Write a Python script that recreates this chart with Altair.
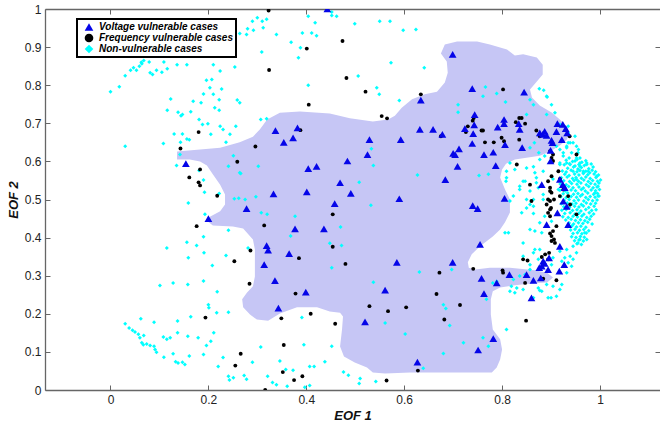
import altair as alt
import pandas as pd

# Outline of the shaded voltage-vulnerable region (EOF 1, EOF 2), traced clockwise
region_x = [0.136, 0.224, 0.264, 0.291, 0.305, 0.320, 0.346, 0.387, 0.448, 0.489, 0.536, 0.567,
            0.581, 0.595, 0.616, 0.642, 0.667, 0.683, 0.689, 0.687, 0.675, 0.683, 0.708, 0.749,
            0.775, 0.810, 0.826, 0.843, 0.871, 0.883, 0.883, 0.871, 0.857, 0.861, 0.877, 0.902,
            0.918, 0.932, 0.938, 0.932, 0.918, 0.898, 0.877, 0.853, 0.826, 0.808, 0.800, 0.796,
            0.800, 0.806, 0.816, 0.816, 0.806, 0.796, 0.781, 0.755, 0.738, 0.730, 0.732, 0.745,
            0.775, 0.816, 0.867, 0.892, 0.904, 0.892, 0.863, 0.822, 0.796, 0.781, 0.777, 0.777,
            0.781, 0.796, 0.800, 0.796, 0.789, 0.779, 0.734, 0.673, 0.612, 0.561, 0.536, 0.524,
            0.499, 0.477, 0.469, 0.473, 0.475, 0.469, 0.448, 0.422, 0.381, 0.346, 0.322, 0.299,
            0.285, 0.271, 0.269, 0.279, 0.291, 0.295, 0.295, 0.295, 0.291, 0.271, 0.250, 0.209,
            0.199, 0.203, 0.224, 0.234, 0.234, 0.224, 0.209, 0.197, 0.183, 0.162, 0.136]
region_y = [0.626, 0.636, 0.650, 0.665, 0.684, 0.710, 0.728, 0.731, 0.726, 0.713, 0.705, 0.710,
            0.720, 0.741, 0.763, 0.776, 0.783, 0.807, 0.833, 0.862, 0.883, 0.907, 0.915, 0.915,
            0.907, 0.894, 0.878, 0.881, 0.873, 0.854, 0.828, 0.810, 0.789, 0.768, 0.747, 0.728,
            0.710, 0.692, 0.673, 0.657, 0.642, 0.626, 0.615, 0.610, 0.605, 0.594, 0.579, 0.558,
            0.545, 0.526, 0.500, 0.466, 0.440, 0.421, 0.403, 0.377, 0.356, 0.335, 0.321, 0.316,
            0.321, 0.321, 0.314, 0.308, 0.295, 0.282, 0.280, 0.274, 0.269, 0.259, 0.238, 0.198,
            0.159, 0.133, 0.106, 0.080, 0.059, 0.046, 0.046, 0.046, 0.046, 0.043, 0.046, 0.059,
            0.072, 0.088, 0.114, 0.159, 0.193, 0.203, 0.206, 0.217, 0.217, 0.201, 0.182, 0.185,
            0.198, 0.217, 0.238, 0.256, 0.272, 0.298, 0.335, 0.369, 0.395, 0.424, 0.429, 0.432,
            0.442, 0.455, 0.469, 0.487, 0.513, 0.539, 0.566, 0.589, 0.600, 0.605, 0.605]

voltage_pts = [
    (0.443, 1.000), (0.154, 0.594), (0.337, 0.681), (0.382, 0.688), (0.354, 0.650), (0.373, 0.662),
    (0.404, 0.581), (0.421, 0.587), (0.333, 0.515), (0.401, 0.520), (0.278, 0.476), (0.200, 0.450),
    (0.699, 0.881), (0.739, 0.791), (0.845, 0.782), (0.634, 0.761), (0.744, 0.723), (0.743, 0.696),
    (0.724, 0.686), (0.741, 0.673), (0.804, 0.710), (0.804, 0.699), (0.791, 0.690), (0.834, 0.699),
    (0.836, 0.684), (0.632, 0.684), (0.659, 0.684), (0.678, 0.671), (0.593, 0.657), (0.529, 0.657),
    (0.739, 0.647), (0.806, 0.644), (0.841, 0.636), (0.712, 0.633), (0.525, 0.618), (0.700, 0.621),
    (0.704, 0.618), (0.763, 0.618), (0.782, 0.624), (0.787, 0.589), (0.709, 0.587), (0.484, 0.601),
    (0.469, 0.544), (0.491, 0.516), (0.684, 0.552), (0.590, 0.502), (0.458, 0.489), (0.740, 0.484),
    (0.750, 0.476), (0.805, 0.503), (0.877, 0.675), (0.883, 0.671), (0.887, 0.679), (0.891, 0.668),
    (0.913, 0.699), (0.924, 0.697), (0.930, 0.686), (0.911, 0.678), (0.933, 0.675), (0.922, 0.657),
    (0.901, 0.655), (0.903, 0.649), (0.899, 0.629), (0.899, 0.601), (0.881, 0.539), (0.924, 0.539),
    (0.928, 0.531), (0.932, 0.482), (0.913, 0.465), (0.891, 0.434), (0.935, 0.434), (0.918, 0.377),
    (0.896, 0.347), (0.884, 0.338), (0.881, 0.325), (0.876, 0.321), (0.894, 0.316), (0.887, 0.332),
    (0.927, 0.329), (0.917, 0.312), (0.879, 0.294), (0.864, 0.288), (0.850, 0.303), (0.815, 0.303),
    (0.758, 0.293), (0.860, 0.242), (0.763, 0.253), (0.755, 0.382), (0.585, 0.335), (0.699, 0.335),
    (0.789, 0.281), (0.561, 0.262), (0.520, 0.179), (0.782, 0.135), (0.751, 0.105), (0.627, 0.073),
    (0.377, 0.423), (0.436, 0.423), (0.319, 0.379), (0.322, 0.367), (0.365, 0.358), (0.314, 0.329),
    (0.336, 0.287), (0.399, 0.257), (0.343, 0.215), (0.918, 0.553), (0.925, 0.496),
]

frequency_pts = [
    (0.323, 0.996), (0.401, 0.896), (0.324, 0.840), (0.405, 0.749), (0.180, 0.677), (0.143, 0.634),
    (0.296, 0.639), (0.388, 0.682), (0.259, 0.599), (0.183, 0.579), (0.161, 0.558), (0.180, 0.545),
    (0.183, 0.537), (0.218, 0.510), (0.474, 0.916), (0.482, 0.819), (0.521, 0.783), (0.634, 0.776),
    (0.554, 0.719), (0.565, 0.713), (0.802, 0.789), (0.742, 0.714), (0.740, 0.707), (0.730, 0.692),
    (0.726, 0.677), (0.758, 0.681), (0.761, 0.681), (0.765, 0.650), (0.783, 0.650), (0.799, 0.662),
    (0.804, 0.653), (0.835, 0.657), (0.828, 0.703), (0.835, 0.714), (0.840, 0.714), (0.847, 0.699),
    (0.675, 0.666), (0.830, 0.592), (0.454, 0.461), (0.870, 0.681), (0.877, 0.666), (0.898, 0.627),
    (0.901, 0.609), (0.915, 0.574), (0.894, 0.548), (0.857, 0.539), (0.898, 0.522), (0.860, 0.496),
    (0.894, 0.500), (0.898, 0.474), (0.918, 0.509), (0.925, 0.526), (0.938, 0.666), (0.904, 0.618),
    (0.904, 0.601), (0.901, 0.561), (0.918, 0.554), (0.898, 0.531), (0.925, 0.535), (0.901, 0.518),
    (0.935, 0.509), (0.952, 0.618), (0.898, 0.496), (0.906, 0.500), (0.891, 0.487), (0.900, 0.478),
    (0.894, 0.465), (0.898, 0.456), (0.939, 0.487), (0.952, 0.461), (0.911, 0.430), (0.904, 0.417),
    (0.901, 0.404), (0.906, 0.395), (0.908, 0.386), (0.901, 0.391), (0.888, 0.356), (0.896, 0.360),
    (0.843, 0.343), (0.852, 0.340), (0.801, 0.314), (0.802, 0.308), (0.847, 0.281), (0.884, 0.292),
    (0.911, 0.288), (0.894, 0.343), (0.480, 0.331), (0.672, 0.308), (0.741, 0.318), (0.666, 0.252),
    (0.714, 0.223), (0.529, 0.220), (0.567, 0.207), (0.604, 0.217), (0.459, 0.174), (0.682, 0.185),
    (0.849, 0.182), (0.628, 0.051), (0.564, 0.025), (0.881, 0.349), (0.898, 0.411), (0.454, 0.376),
    (0.314, 0.432), (0.176, 0.430), (0.286, 0.366), (0.385, 0.346), (0.253, 0.338), (0.284, 0.279),
    (0.378, 0.253), (0.409, 0.200), (0.349, 0.188), (0.194, 0.190), (0.266, 0.095), (0.354, 0.118),
    (0.255, 0.064), (0.352, 0.047), (0.392, 0.036), (0.375, 0.026), (0.316, 0.000),
]

# scattered non-vulnerable cases
nonvul_pts = [
    (0.000, 0.783), (0.018, 0.796), (0.030, 0.825), (0.041, 0.839), (0.047, 0.846), (0.053, 0.839),
    (0.059, 0.850), (0.064, 0.856), (0.068, 0.865), (0.063, 0.860), (0.079, 0.861), (0.086, 0.828),
    (0.081, 0.833), (0.094, 0.839), (0.105, 0.834), (0.109, 0.861), (0.116, 0.843), (0.136, 0.854),
    (0.156, 0.854), (0.030, 0.640), (0.123, 0.764), (0.116, 0.734), (0.138, 0.729), (0.144, 0.720),
    (0.147, 0.723), (0.164, 0.730), (0.169, 0.758), (0.185, 0.754), (0.190, 0.777), (0.196, 0.813),
    (0.207, 0.815), (0.203, 0.793), (0.210, 0.776), (0.210, 0.854), (0.224, 0.837), (0.254, 0.848),
    (0.227, 0.790), (0.222, 0.762), (0.213, 0.741), (0.222, 0.734), (0.259, 0.761), (0.264, 0.754),
    (0.181, 0.710), (0.199, 0.699), (0.188, 0.697), (0.224, 0.692), (0.230, 0.684), (0.244, 0.671),
    (0.130, 0.672), (0.147, 0.672), (0.156, 0.659), (0.161, 0.657), (0.205, 0.671), (0.108, 0.647),
    (0.143, 0.650), (0.236, 0.650), (0.307, 0.710), (0.319, 0.712), (0.251, 0.615), (0.241, 0.587),
    (0.264, 0.570), (0.302, 0.587), (0.135, 0.589), (0.142, 0.618), (0.256, 0.692),
    (0.264, 0.936), (0.278, 0.933), (0.280, 0.948), (0.290, 0.968), (0.300, 0.977), (0.310, 0.968),
    (0.319, 0.973), (0.312, 0.951), (0.292, 0.944), (0.339, 0.933), (0.309, 0.887), (0.369, 0.913),
    (0.384, 0.872), (0.388, 0.898), (0.392, 0.937), (0.411, 0.937), (0.421, 0.930), (0.404, 0.981),
    (0.418, 0.964), (0.404, 0.800), (0.452, 0.983), (0.452, 0.992), (0.462, 0.981), (0.499, 0.961),
    (0.550, 0.968), (0.571, 0.968), (0.598, 0.944), (0.624, 0.946), (0.573, 0.859), (0.641, 0.846),
    (0.506, 0.824), (0.544, 0.793), (0.549, 0.776), (0.590, 0.760),
    (0.181, 0.576), (0.190, 0.551), (0.266, 0.568), (0.222, 0.516), (0.159, 0.491), (0.193, 0.461),
    (0.192, 0.519), (0.253, 0.502), (0.262, 0.503), (0.275, 0.500), (0.297, 0.507), (0.308, 0.465),
    (0.320, 0.461), (0.377, 0.456), (0.241, 0.419), (0.190, 0.402), (0.156, 0.388), (0.176, 0.379),
    (0.191, 0.360), (0.159, 0.347), (0.115, 0.373), (0.208, 0.327), (0.236, 0.353), (0.281, 0.373),
    (0.368, 0.404), (0.448, 0.385), (0.452, 0.321), (0.101, 0.274), (0.128, 0.281), (0.158, 0.277),
    (0.190, 0.286), (0.218, 0.258), (0.200, 0.224), (0.201, 0.216), (0.164, 0.192), (0.217, 0.203),
    (0.241, 0.204), (0.137, 0.181), (0.089, 0.178), (0.062, 0.187), (0.391, 0.190),
    (0.030, 0.174), (0.038, 0.163), (0.045, 0.157), (0.050, 0.152), (0.057, 0.146), (0.060, 0.137),
    (0.068, 0.143), (0.064, 0.124), (0.067, 0.119), (0.074, 0.121), (0.081, 0.117), (0.089, 0.115),
    (0.091, 0.106), (0.094, 0.099), (0.109, 0.086), (0.108, 0.139), (0.115, 0.133), (0.122, 0.137),
    (0.137, 0.150), (0.128, 0.095), (0.133, 0.074), (0.138, 0.071), (0.147, 0.073), (0.152, 0.067),
    (0.158, 0.141), (0.161, 0.089), (0.179, 0.137), (0.190, 0.093), (0.196, 0.117), (0.205, 0.128),
    (0.211, 0.150), (0.220, 0.062), (0.230, 0.085), (0.241, 0.036), (0.243, 0.026), (0.251, 0.032),
    (0.273, 0.038), (0.278, 0.028), (0.290, 0.073), (0.307, 0.113), (0.321, 0.036), (0.331, 0.020),
    (0.339, 0.014), (0.346, 0.076), (0.358, 0.054), (0.361, 0.010), (0.373, 0.052), (0.395, 0.119),
    (0.397, 0.007), (0.407, 0.012), (0.407, 0.062), (0.416, 0.062), (0.438, 0.074),
    (0.533, 0.633), (0.537, 0.589), (0.508, 0.545), (0.627, 0.564), (0.532, 0.485), (0.753, 0.563),
    (0.772, 0.566), (0.710, 0.749), (0.710, 0.729), (0.766, 0.795), (0.761, 0.771), (0.789, 0.778),
    (0.807, 0.756), (0.792, 0.688), (0.470, 0.428), (0.472, 0.379), (0.537, 0.283), (0.631, 0.310),
    (0.697, 0.316), (0.680, 0.224), (0.685, 0.214), (0.768, 0.238), (0.781, 0.281), (0.561, 0.176),
    (0.602, 0.147), (0.693, 0.169), (0.721, 0.124), (0.761, 0.137), (0.772, 0.115), (0.680, 0.096),
    (0.639, 0.057), (0.452, 0.115), (0.476, 0.047), (0.486, 0.039), (0.510, 0.030), (0.508, 0.017),
    (0.542, 0.022), (0.809, 0.159), (0.816, 0.496), (0.808, 0.548), (0.816, 0.596),
    (0.850, 0.723), (0.857, 0.762), (0.864, 0.749), (0.876, 0.791), (0.885, 0.787), (0.892, 0.769),
    (0.891, 0.723), (0.908, 0.728), (0.901, 0.749), (0.891, 0.771), (0.918, 0.697), (0.935, 0.692),
    (0.935, 0.675), (0.949, 0.666), (0.939, 0.649), (0.935, 0.649), (0.945, 0.649), (0.952, 0.640),
    (0.955, 0.623), (0.952, 0.609), (0.925, 0.623), (0.932, 0.640), (0.911, 0.640), (0.866, 0.649),
    (0.857, 0.636), (0.875, 0.623), (0.887, 0.614), (0.932, 0.636), (0.918, 0.631), (0.956, 0.631),
    (0.942, 0.623), (0.925, 0.614), (0.937, 0.609), (0.959, 0.609), (0.949, 0.601), (0.932, 0.596),
    (0.918, 0.592), (0.959, 0.587), (0.973, 0.596), (0.966, 0.574), (0.979, 0.570), (0.945, 0.574),
    (0.918, 0.596), (0.939, 0.592), (0.959, 0.596), (0.973, 0.592), (0.976, 0.574), (0.993, 0.561),
    (0.966, 0.570), (0.952, 0.553), (0.884, 0.574), (0.867, 0.570), (0.870, 0.544), (0.847, 0.548),
    (0.836, 0.526), (0.850, 0.500), (0.864, 0.482), (0.884, 0.500), (0.840, 0.465), (0.850, 0.478),
    (0.877, 0.605), (0.864, 0.586), (0.850, 0.583), (0.826, 0.579), (0.809, 0.574), (0.836, 0.535),
    (0.843, 0.548), (0.870, 0.557), (0.874, 0.531), (0.857, 0.522), (0.884, 0.513), (0.915, 0.526),
    (0.904, 0.554), (0.823, 0.509), (0.809, 0.557), (0.996, 0.535), (0.990, 0.518), (0.996, 0.509),
    (0.864, 0.500), (0.857, 0.487), (0.864, 0.463), (0.887, 0.456), (0.901, 0.443), (0.877, 0.439),
    (0.857, 0.421), (0.867, 0.417), (0.881, 0.413), (0.806, 0.413), (0.813, 0.413), (0.843, 0.386),
    (0.867, 0.369), (0.877, 0.369), (0.918, 0.364), (0.932, 0.369), (0.945, 0.377), (0.955, 0.386),
    (0.959, 0.395), (0.969, 0.413), (0.973, 0.395), (0.952, 0.360), (0.939, 0.351), (0.928, 0.347),
    (0.945, 0.343), (0.935, 0.334), (0.922, 0.338), (0.942, 0.325), (0.932, 0.308), (0.904, 0.347),
    (0.901, 0.329), (0.857, 0.316), (0.847, 0.303), (0.836, 0.299), (0.823, 0.290), (0.819, 0.272),
    (0.830, 0.268), (0.843, 0.264), (0.874, 0.268), (0.891, 0.277), (0.904, 0.272), (0.922, 0.277),
    (0.918, 0.264), (0.881, 0.259), (0.826, 0.255), (0.864, 0.242), (0.911, 0.246), (0.894, 0.242),
    (0.789, 0.285), (0.843, 0.351), (0.857, 0.329), (0.874, 0.343), (0.864, 0.360), (0.816, 0.259),
    (0.877, 0.261), (0.900, 0.242),
]

# dense group of non-vulnerable cases near EOF 1 = 1
nonvul_cluster = [
    (0.931, 0.603), (0.944, 0.600), (0.953, 0.605), (0.963, 0.598), (0.971, 0.602),
    (0.927, 0.591), (0.938, 0.594), (0.949, 0.588), (0.957, 0.592), (0.968, 0.589), (0.982, 0.593),
    (0.934, 0.582), (0.946, 0.585), (0.955, 0.580), (0.962, 0.584), (0.977, 0.581), (0.986, 0.585),
    (0.923, 0.575), (0.931, 0.572), (0.941, 0.577), (0.953, 0.573), (0.959, 0.576), (0.971, 0.574),
    (0.984, 0.577), (0.991, 0.573), (0.928, 0.566), (0.937, 0.563), (0.948, 0.567), (0.957, 0.564),
    (0.966, 0.568), (0.975, 0.565), (0.988, 0.567), (0.997, 0.564), (0.921, 0.557), (0.933, 0.559),
    (0.944, 0.555), (0.951, 0.558), (0.962, 0.556), (0.971, 0.559), (0.980, 0.555), (0.992, 0.558),
    (0.926, 0.549), (0.938, 0.547), (0.947, 0.550), (0.956, 0.548), (0.967, 0.551), (0.976, 0.547),
    (0.985, 0.550), (0.995, 0.548), (1.001, 0.551), (0.919, 0.541), (0.931, 0.539), (0.942, 0.542),
    (0.953, 0.540), (0.961, 0.543), (0.972, 0.539), (0.981, 0.542), (0.990, 0.540), (0.998, 0.543),
    (0.924, 0.532), (0.936, 0.534), (0.945, 0.531), (0.957, 0.533), (0.966, 0.530), (0.977, 0.534),
    (0.986, 0.531), (0.994, 0.533), (0.918, 0.524), (0.929, 0.522), (0.941, 0.525), (0.950, 0.523),
    (0.962, 0.526), (0.970, 0.522), (0.982, 0.525), (0.991, 0.523), (0.999, 0.526), (0.925, 0.515),
    (0.934, 0.517), (0.946, 0.514), (0.955, 0.516), (0.964, 0.513), (0.975, 0.517), (0.987, 0.514),
    (0.995, 0.516), (0.920, 0.507), (0.931, 0.505), (0.941, 0.508), (0.952, 0.506), (0.960, 0.509),
    (0.971, 0.505), (0.980, 0.508), (0.990, 0.506), (0.998, 0.509), (0.927, 0.498), (0.937, 0.500),
    (0.947, 0.497), (0.956, 0.499), (0.967, 0.496), (0.976, 0.500), (0.985, 0.497), (0.994, 0.499),
    (0.921, 0.489), (0.933, 0.491), (0.943, 0.488), (0.951, 0.490), (0.962, 0.487), (0.972, 0.491),
    (0.981, 0.488), (0.991, 0.490), (0.926, 0.481), (0.938, 0.479), (0.948, 0.482), (0.957, 0.480),
    (0.966, 0.483), (0.977, 0.479), (0.988, 0.482), (0.922, 0.472), (0.931, 0.474), (0.944, 0.471),
    (0.953, 0.473), (0.961, 0.470), (0.971, 0.474), (0.983, 0.471), (0.992, 0.473), (0.928, 0.463),
    (0.939, 0.465), (0.949, 0.462), (0.957, 0.464), (0.967, 0.461), (0.978, 0.465), (0.987, 0.462),
    (0.924, 0.455), (0.935, 0.453), (0.945, 0.456), (0.954, 0.454), (0.963, 0.457), (0.973, 0.453),
    (0.982, 0.456), (0.930, 0.446), (0.941, 0.448), (0.950, 0.445), (0.960, 0.447), (0.969, 0.444),
    (0.979, 0.448), (0.937, 0.438), (0.946, 0.436), (0.956, 0.439), (0.965, 0.437), (0.975, 0.440),
    (0.984, 0.436), (0.933, 0.429), (0.943, 0.431), (0.952, 0.428), (0.961, 0.430), (0.971, 0.427),
    (0.940, 0.420), (0.949, 0.422), (0.958, 0.419), (0.967, 0.421), (0.977, 0.418), (0.945, 0.411),
    (0.954, 0.413), (0.963, 0.410), (0.972, 0.412), (0.942, 0.402), (0.951, 0.400), (0.960, 0.403),
    (0.968, 0.401), (0.948, 0.392), (0.957, 0.394), (0.966, 0.391), (0.953, 0.384), (0.962, 0.382),
]

kinds = ["Voltage vulnerable cases", "Frequency vulnerable cases", "Non-vulnerable cases"]
kind_colors = ["#0505e8", "#000000", "#00ffff"]
kind_shapes = ["triangle-up", "circle", "diamond"]

x_ticks = [0, 0.2, 0.4, 0.6, 0.8, 1]
y_ticks = [0, 0.1, 0.2, 0.3, 0.4, 0.5, 0.6, 0.7, 0.8, 0.9, 1]

W, H = 615, 381
FONT = "Liberation Sans"
AXIS_GREY = "#666666"

x_scale = alt.Scale(domain=[-0.1338, 1.1226], nice=False, zero=False)
y_scale = alt.Scale(domain=[0, 1], nice=False, zero=False)


def frame(pts, kind):
    return pd.DataFrame({"x": [p[0] for p in pts], "y": [p[1] for p in pts], "kind": kind})


region_df = pd.DataFrame({"x": region_x, "y": region_y, "i": list(range(len(region_x)))})

main_x_axis = alt.Axis(orient="bottom", values=x_ticks, format="~g", ticks=False, grid=False,
                       title="EOF 1", domainColor=AXIS_GREY, domainWidth=1.3,
                       labelFont=FONT, labelFontSize=12, labelColor="#222222", labelPadding=4,
                       titleFont=FONT, titleFontSize=13, titleFontWeight="bold",
                       titleFontStyle="italic", titleColor="#111111", titlePadding=4)
main_y_axis = alt.Axis(orient="left", values=y_ticks, format="~g", ticks=False, grid=False,
                       title="EOF 2", domainColor=AXIS_GREY, domainWidth=1.3,
                       labelFont=FONT, labelFontSize=12, labelColor="#222222", labelPadding=4,
                       titleFont=FONT, titleFontSize=13, titleFontWeight="bold",
                       titleFontStyle="italic", titleColor="#111111", titlePadding=4)

region = alt.Chart(region_df).mark_line(
    interpolate="linear-closed", fill="#c6c6f5", strokeWidth=0, clip=True
).encode(
    x=alt.X("x:Q", scale=x_scale, axis=main_x_axis),
    y=alt.Y("y:Q", scale=y_scale, axis=main_y_axis),
    order="i:Q",
)

color = alt.Color("kind:N", scale=alt.Scale(domain=kinds, range=kind_colors),
                  legend=alt.Legend(title=""))
shape = alt.Shape("kind:N", scale=alt.Scale(domain=kinds, range=kind_shapes),
                  legend=alt.Legend(title=""))


def scatter(df, size):
    return alt.Chart(df).mark_point(filled=True, opacity=1, size=size, clip=True).encode(
        x=alt.X("x:Q", scale=x_scale, axis=None),
        y=alt.Y("y:Q", scale=y_scale, axis=None),
        color=color,
        shape=shape,
    )


cyan_layer = scatter(pd.concat([frame(nonvul_pts, kinds[2]), frame(nonvul_cluster, kinds[2])]), 16)
black_layer = scatter(frame(frequency_pts, kinds[1]), 15)
blue_layer = scatter(frame(voltage_pts, kinds[0]), 60)

# inward-pointing tick marks on all four sides of the box
anchor = pd.DataFrame({"x": [0.5], "y": [0.5]})


def tick_axis(orient, values, show_domain):
    return alt.Axis(orient=orient, offset=-(H if orient in ("top", "bottom") else W),
                    values=values, labels=False, title="", grid=False, ticks=True,
                    tickSize=5, tickColor=AXIS_GREY, tickWidth=1,
                    domain=show_domain, domainColor=AXIS_GREY, domainWidth=1.3)


ticks_a = alt.Chart(anchor).mark_point(opacity=0).encode(
    x=alt.X("x:Q", scale=x_scale, axis=tick_axis("top", x_ticks, False)),
    y=alt.Y("y:Q", scale=y_scale, axis=tick_axis("right", y_ticks, False)),
)
ticks_b = alt.Chart(anchor).mark_point(opacity=0).encode(
    x=alt.X("x:Q", scale=x_scale, axis=tick_axis("bottom", x_ticks, True)),
    y=alt.Y("y:Q", scale=y_scale, axis=tick_axis("left", y_ticks, False)),
)

chart = alt.layer(region, cyan_layer, black_layer, blue_layer, ticks_a, ticks_b).resolve_axis(
    x="independent", y="independent"
).properties(
    width=W, height=H,
    autosize=alt.AutoSizeParams(type="none"),
    padding={"left": 45, "top": 9, "right": 0, "bottom": 33},
    background="white",
).configure_view(
    strokeWidth=0
).configure_legend(
    orient="none", legendX=32, legendY=10,
    fillColor="white", strokeColor="black", strokeWidth=2,
    padding=3, rowPadding=1, symbolSize=75, symbolStrokeWidth=0, symbolOffset=4,
    labelOffset=5, labelFont=FONT, labelFontSize=10, labelFontWeight="bold",
    labelFontStyle="italic", labelColor="#000000",
)

chart.save("out.html", embed_options={"renderer": "svg", "actions": False})
